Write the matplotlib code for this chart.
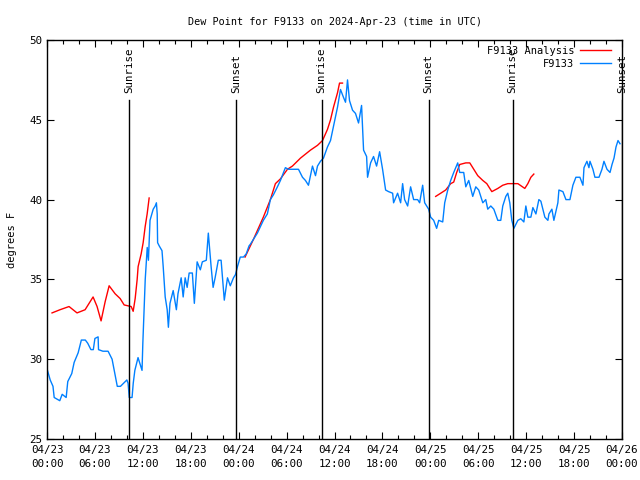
import numpy as np
import matplotlib
matplotlib.use("Agg")
import matplotlib.pyplot as plt
from matplotlib.ticker import MultipleLocator

# ---- data (hours since 2024-04-23 00:00 UTC, dew point in F) ----
obs_hours = [0.0, 0.4, 0.75, 0.9, 1.6, 1.9, 2.4, 2.6, 3.1, 3.4, 3.9, 4.3, 4.8, 5.1, 5.5, 5.8,
             6.0, 6.4, 6.45, 7.0, 7.65, 8.15, 8.5, 8.8, 9.2, 9.8, 10.0, 10.15, 10.3, 10.65,
             10.8, 11.0, 11.4, 11.9, 12.0, 12.3, 12.55, 12.7, 12.9, 13.3, 13.55, 13.7, 13.8,
             13.85, 14.05, 14.4, 14.55, 14.8, 15.05, 15.2, 15.4, 15.8, 16.2, 16.4, 16.8, 17.05,
             17.3, 17.55, 17.8, 18.2, 18.45, 18.8, 19.2, 19.45, 19.95, 20.2, 20.55, 20.8, 21.05,
             21.45, 21.8, 22.2, 22.6, 22.95, 23.35, 23.6, 23.85, 24.2, 24.6, 24.95, 25.3,
             25.46, 26.34, 27.09, 27.59, 27.97, 28.35, 28.85, 29.23, 29.85, 30.23, 30.86, 31.49,
             31.99, 32.36, 32.74, 33.24, 33.62, 33.87, 34.24, 34.62, 35.12, 35.5, 35.88, 36.38,
             36.75, 37.13, 37.38, 37.63, 37.88, 38.26, 38.63, 39.01, 39.39, 39.64, 40.02, 40.14,
             40.52, 40.89, 41.27, 41.65, 42.02, 42.4, 42.77, 43.28, 43.4, 43.9, 44.28, 44.53,
             44.78, 45.16, 45.53, 45.91, 46.41, 46.66, 47.04, 47.29, 47.79, 48.04, 48.42, 48.79,
             49.05, 49.55, 49.8, 50.18, 50.55, 50.93, 51.43, 51.68, 52.18, 52.44, 52.81, 53.31,
             53.69, 54.06, 54.57, 54.94, 55.19, 55.57, 55.95, 56.45, 56.82, 57.07, 57.45, 57.7,
             57.95, 58.2, 58.46, 58.96, 59.33, 59.71, 59.96, 60.21, 60.59, 60.84, 61.22, 61.59,
             61.84, 62.09, 62.34, 62.72, 62.85, 63.22, 63.47, 63.97, 64.1, 64.6, 64.98, 65.48,
             65.85, 66.23, 66.73, 67.11, 67.24, 67.61, 67.86, 67.99, 68.36, 68.61, 69.12, 69.49,
             69.74, 70.12, 70.5, 70.75, 71.0, 71.25, 71.5, 71.75]
obs_dewpt = [29.4, 28.7, 28.3, 27.6, 27.4, 27.8, 27.6, 28.6, 29.1, 29.8, 30.4, 31.2, 31.2, 31.0, 30.6, 30.6,
             31.3, 31.4, 30.6, 30.5, 30.5, 30.0, 29.1, 28.3, 28.3, 28.6, 28.7, 28.5, 27.6, 27.6,
             28.5, 29.3, 30.1, 29.3, 31.0, 35.0, 37.0, 36.2, 38.7, 39.4, 39.6, 39.8, 39.1,
             37.3, 37.1, 36.8, 35.8, 33.9, 33.1, 32.0, 33.5, 34.3, 33.1, 34.1, 35.1, 33.9,
             35.1, 34.5, 35.4, 35.4, 33.5, 36.1, 35.6, 36.1, 36.2, 37.9, 35.8, 34.5, 35.1,
             36.2, 36.2, 33.7, 35.1, 34.6, 35.1, 35.3, 35.8, 36.4, 36.4, 36.6, 37.1,
             37.2, 37.9, 38.7, 39.1, 40.0, 40.3, 40.8, 41.2, 42.0, 41.9, 41.9, 41.9,
             41.4, 41.2, 40.9, 42.1, 41.5, 42.1, 42.4, 42.6, 43.3, 43.7, 44.6, 45.8,
             46.9, 46.4, 46.1, 47.5, 46.2, 45.6, 45.4, 44.8, 45.9, 43.1, 42.7, 41.4,
             42.3, 42.7, 42.1, 43.0, 41.9, 40.6, 40.5, 40.4, 39.8, 40.4, 39.8, 41.0,
             40.0, 39.6, 40.8, 40.0, 40.0, 39.8, 40.9, 39.8, 39.4, 38.9, 38.7, 38.2,
             38.7, 38.6, 39.8, 40.6, 41.2, 41.7, 42.3, 41.7, 41.7, 40.8, 41.2, 40.2,
             40.8, 40.6, 39.8, 40.0, 39.4, 39.6, 39.4, 38.7, 38.7, 39.6, 40.2, 40.4,
             39.8, 38.7, 38.2, 38.7, 38.8, 38.6, 39.6, 38.9, 38.9, 39.5, 39.1, 40.0,
             39.9, 39.4, 38.9, 38.7, 39.1, 39.4, 38.7, 39.8, 40.6, 40.5, 40.0, 40.0,
             40.9, 41.4, 41.4, 40.9, 42.0, 42.4, 42.0, 42.4, 41.9, 41.4, 41.4, 41.9,
             42.4, 41.9, 41.7, 42.2, 42.6, 43.3, 43.7, 43.5]

ana_hours = [0.63, 1.63, 2.76, 3.76, 4.77, 5.77, 6.27, 6.77, 7.28, 7.78, 8.53, 9.16, 9.66, 10.54,
             10.79, 11.04, 11.29, 11.41, 11.79, 12.04, 12.29, 12.54, 12.79, np.nan,
             24.8, 25.84, 27.09, 27.97, 28.6, 29.23, 30.11, 30.73, 31.74, 32.99, 33.87, 34.5,
             35.12, 35.5, 35.88, 36.38, 36.63, 37.0, np.nan,
             48.67, 49.3, 49.92, 50.55, 50.93, 51.3, 51.68, 52.44, 52.94, 53.44, 53.94, 54.57,
             55.07, 55.7, 56.45, 57.07, 57.7, 58.96, 59.83, 60.21, 60.59, 60.96]
ana_dewpt = [32.9, 33.1, 33.3, 32.9, 33.1, 33.9, 33.3, 32.4, 33.6, 34.6, 34.1, 33.8, 33.4, 33.3,
             33.0, 33.8, 35.0, 35.8, 36.6, 37.3, 38.3, 39.1, 40.1, np.nan,
             36.4, 37.5, 38.9, 40.0, 41.0, 41.3, 41.9, 42.1, 42.6, 43.1, 43.4, 43.7,
             44.4, 45.0, 45.8, 46.7, 47.3, 47.3, np.nan,
             40.2, 40.4, 40.6, 41.0, 41.1, 41.7, 42.2, 42.3, 42.3, 41.9, 41.5, 41.2,
             41.0, 40.5, 40.7, 40.9, 41.0, 41.0, 40.7, 41.0, 41.4, 41.6]

sun_hours = [10.3, 23.7, 34.4, 47.8, 58.3, 72.0]
sun_labels = ["Sunrise", "Sunset", "Sunrise", "Sunset", "Sunrise", "Sunset"]

xtick_hours = [0, 6, 12, 18, 24, 30, 36, 42, 48, 54, 60, 66, 72]
xtick_labels = ["04/23\n00:00", "04/23\n06:00", "04/23\n12:00", "04/23\n18:00",
                "04/24\n00:00", "04/24\n06:00", "04/24\n12:00", "04/24\n18:00",
                "04/25\n00:00", "04/25\n06:00", "04/25\n12:00", "04/25\n18:00",
                "04/26\n00:00"]

title = "Dew Point for F9133 on 2024-Apr-23 (time in UTC)"

# ---- plot ----
plt.rcParams['font.family'] = ['DejaVu Sans Mono']
plt.rcParams['font.size'] = 7.5

fig = plt.figure(figsize=(6.4, 4.8), dpi=100)
ax = fig.add_axes([47/640, 41/480, 575/640, 399/480])

ax.plot(ana_hours, ana_dewpt, color="#ff0000", lw=1.0, label="F9133 Analysis")
ax.plot(obs_hours, obs_dewpt, color="#0080ff", lw=1.0, label="F9133")

for h, lab in zip(sun_hours, sun_labels):
    ax.plot([h, h], [25, 46.25], color="black", lw=1.0)
    ax.text(h, 46.7, lab, rotation=90, ha="center", va="bottom", fontsize=7.8)

ax.set_xlim(0, 72)
ax.set_ylim(25, 50)
ax.set_xticks(xtick_hours)
ax.set_xticklabels(xtick_labels, linespacing=1.5, fontsize=7.8)
ax.xaxis.set_minor_locator(MultipleLocator(2))
ax.yaxis.set_major_locator(MultipleLocator(5))
ax.tick_params(which="both", direction="in", top=True, right=True, width=0.8)
ax.tick_params(which="major", length=5)
ax.tick_params(which="minor", length=3)
ax.tick_params(axis="x", pad=4)
ax.tick_params(axis="y", labelsize=7.8)
for s in ax.spines.values():
    s.set_linewidth(1.0)

ax.set_ylabel("degrees F", labelpad=9)
ax.set_title(title, fontsize=7.3, pad=11)

leg = ax.legend(loc="upper right", bbox_to_anchor=(0.99, 1.0), frameon=False,
                markerfirst=False, handlelength=2.9, handletextpad=0.6,
                labelspacing=0.3, borderaxespad=0.25, borderpad=0.3, fontsize=7.5)

fig.savefig("out.png", dpi=100)
